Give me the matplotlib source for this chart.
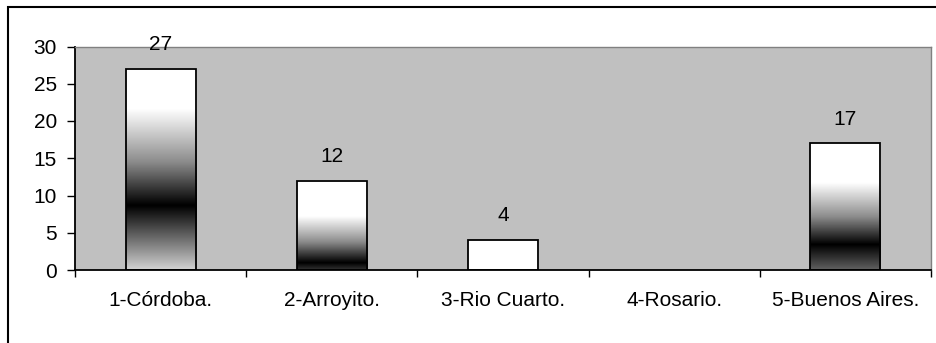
import numpy as np
import matplotlib
matplotlib.use("Agg")
import matplotlib.pyplot as plt
from matplotlib.patches import Rectangle

# datos
ciudades = ['1-Córdoba.', '2-Arroyito.', '3-Rio Cuarto.', '4-Rosario.', '5-Buenos Aires.']
valores = [27, 12, 4, 0, 17]

# degradado de cada barra: (pos. negro, pos. blanco, gris abajo) como fraccion de la altura
degradados = [(0.32, 0.80, 0.82), (0.08, 0.60, 0.20), (-0.6, -0.1, 1.0),
              (0.0, 0.5, 1.0), (0.20, 0.69, 0.38)]

plt.rcParams['font.family'] = ['Liberation Sans', 'DejaVu Sans']
plt.rcParams['font.size'] = 15

fig = plt.figure(figsize=(9.36, 3.43), dpi=100)
ax = fig.add_axes([75/936, 73/343, 856/936, 223.5/343])
ax.set_facecolor('#c0c0c0')

ancho = 0.41
n = 200
for i, (v, (fb, fw, gb)) in enumerate(zip(valores, degradados)):
    if v == 0:
        continue
    t = np.linspace(0, 1, n)
    tmid = fb + 0.45*(fw - fb)
    if fb > 0:
        gris = np.interp(t, [0.0, fb, tmid, fw, 1.0], [gb, 0.0, 0.55, 1.0, 1.0])
    else:
        gris = np.interp(t, [fb, tmid, fw, 1.0], [0.0, 0.55, 1.0, 1.0])
    img = gris.reshape(-1, 1)
    x0 = i - ancho/2
    ax.imshow(img, cmap='gray', vmin=0, vmax=1, origin='lower', aspect='auto',
              extent=[x0, x0 + ancho, 0, v], interpolation='bilinear', zorder=2)
    ax.add_patch(Rectangle((x0, 0), ancho, v, fill=False, edgecolor='black',
                           linewidth=1.3, zorder=3))
    ax.annotate(str(v), (i, v), xytext=(0, 13.5), textcoords='offset points',
                ha='center', va='baseline')

ax.set_xlim(-0.5, 4.5)
ax.set_ylim(0, 30)
ax.set_yticks(range(0, 31, 5))
ax.set_xticks(np.arange(-0.5, 4.6, 1))
ax.set_xticklabels([])
ax.set_xticks(range(5), minor=True)
ax.set_xticklabels(ciudades, minor=True)
ax.tick_params(axis='x', which='minor', length=0, pad=15)
ax.tick_params(axis='x', which='major', direction='out', length=5, width=1)
ax.tick_params(axis='y', direction='out', length=6, width=1, pad=7)

for lado in ['left', 'bottom']:
    ax.spines[lado].set_linewidth(1.3)
for lado in ['top', 'right']:
    ax.spines[lado].set_color('#808080')
    ax.spines[lado].set_linewidth(1)

# marco exterior del grafico
fig.patches.append(Rectangle((8/936, -0.1), 1.1, 1 - 7/343 + 0.1, transform=fig.transFigure,
                             fill=False, edgecolor='black', linewidth=1.5))

fig.savefig('out.png', dpi=100)
